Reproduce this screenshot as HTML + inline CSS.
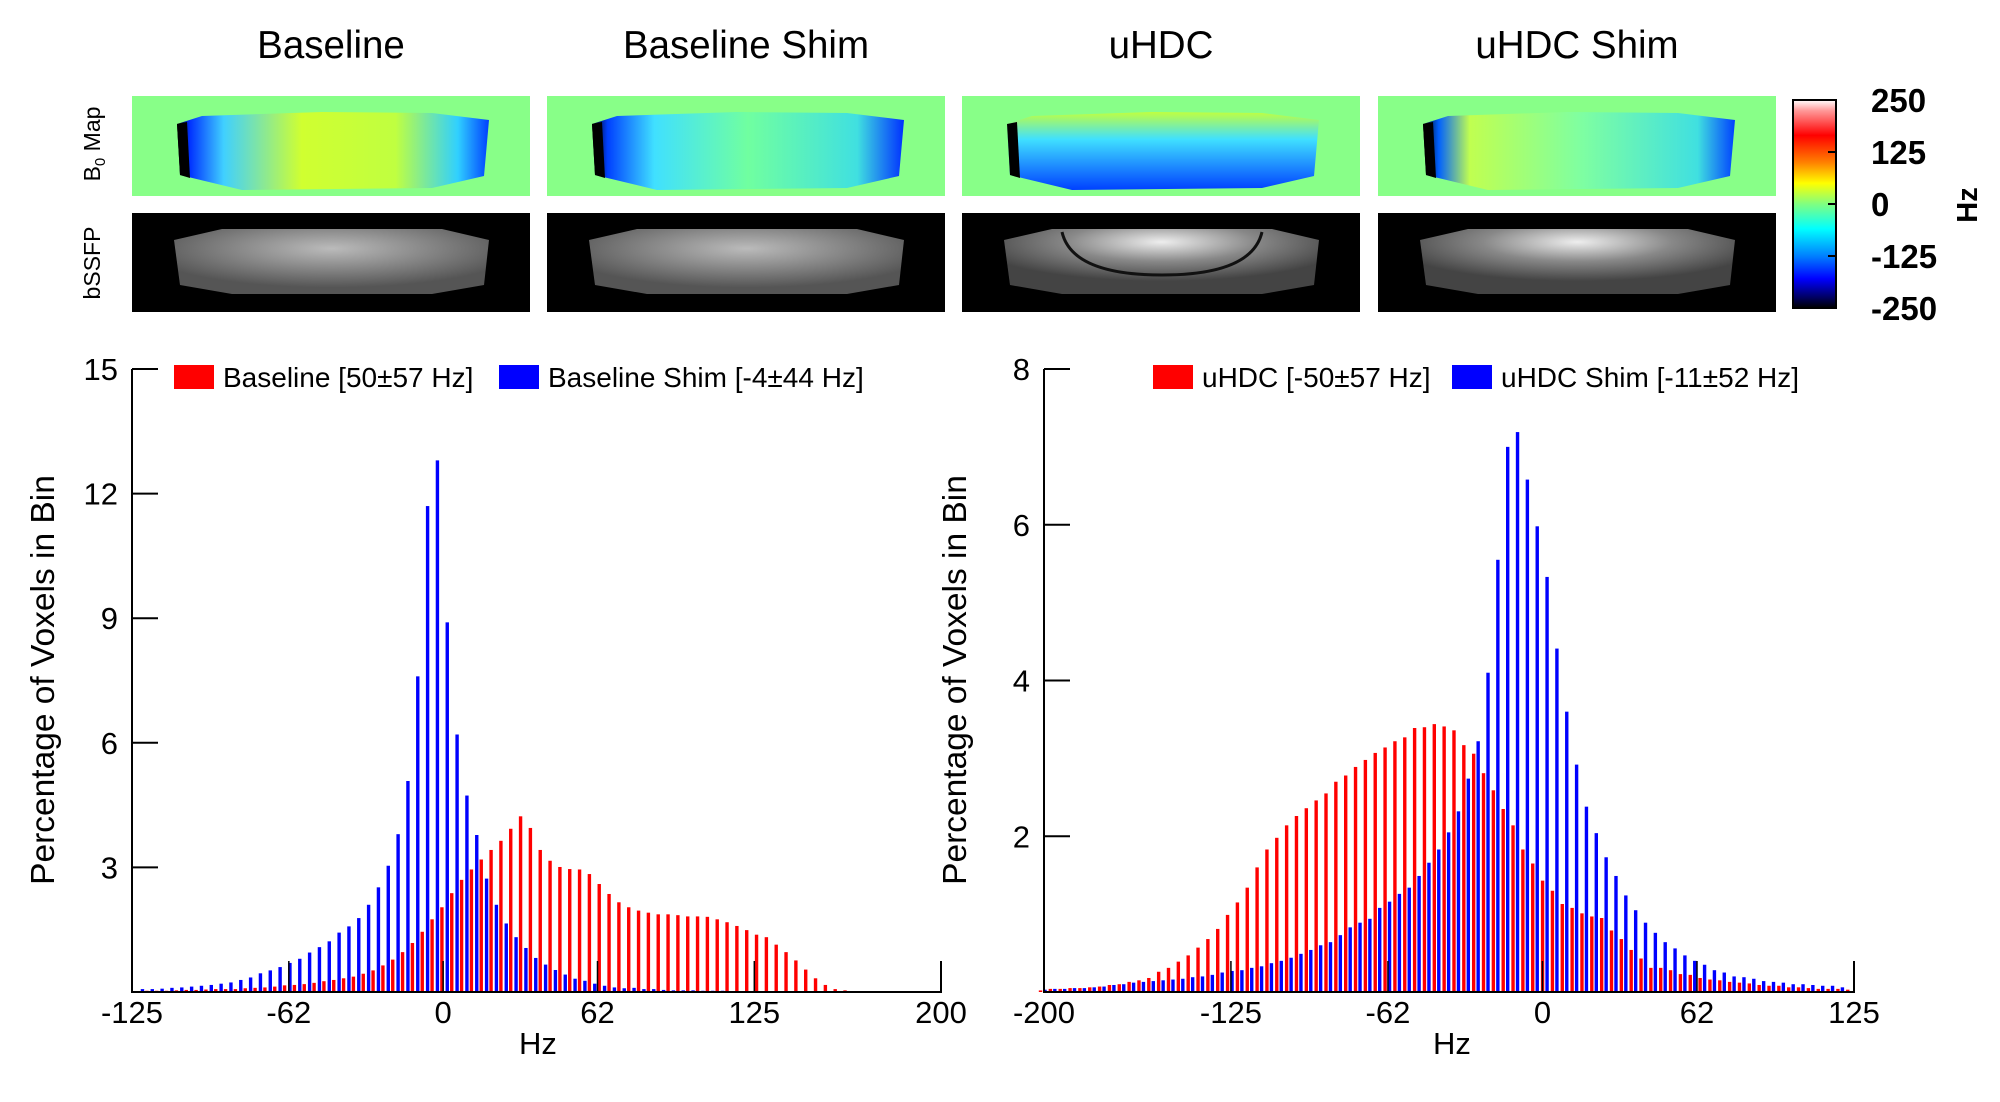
<!DOCTYPE html>
<html><head><meta charset="utf-8"><style>
html,body{margin:0;padding:0;background:#fff;}
svg{display:block;font-family:"Liberation Sans",Arial,sans-serif;}
</style></head><body>
<svg id="fig" width="2000" height="1102" viewBox="0 0 2000 1102" xmlns="http://www.w3.org/2000/svg">
<defs>
<linearGradient id="cbar" x1="0" y1="0" x2="0" y2="1">
<stop offset="0" stop-color="#ffffff"/><stop offset="0.05" stop-color="#ff9a9a"/><stop offset="0.17" stop-color="#ff0000"/>
<stop offset="0.3" stop-color="#ff8000"/><stop offset="0.4" stop-color="#ffff00"/><stop offset="0.5" stop-color="#80ff80"/>
<stop offset="0.62" stop-color="#00ffff"/><stop offset="0.75" stop-color="#0080ff"/><stop offset="0.86" stop-color="#0000ff"/>
<stop offset="0.95" stop-color="#000060"/><stop offset="1" stop-color="#000000"/></linearGradient>
<linearGradient id="b0a" x1="0" y1="0" x2="1" y2="0"><stop offset="0" stop-color="#000"/><stop offset="0.04" stop-color="#0030ff"/><stop offset="0.15" stop-color="#40d0ff"/><stop offset="0.4" stop-color="#d0ff30"/><stop offset="0.7" stop-color="#c0ff40"/><stop offset="0.9" stop-color="#30d0ff"/><stop offset="1" stop-color="#0040ff"/></linearGradient>
<linearGradient id="b0b" x1="0" y1="0" x2="1" y2="0"><stop offset="0" stop-color="#000"/><stop offset="0.05" stop-color="#0040ff"/><stop offset="0.2" stop-color="#40e0ff"/><stop offset="0.5" stop-color="#70ffa0"/><stop offset="0.85" stop-color="#40e0e0"/><stop offset="1" stop-color="#0030ff"/></linearGradient>
<linearGradient id="b0c" x1="0" y1="0" x2="0" y2="1"><stop offset="0" stop-color="#c0ff40"/><stop offset="0.35" stop-color="#40e0ff"/><stop offset="1" stop-color="#0040ff"/></linearGradient>
<linearGradient id="b0d" x1="0" y1="0" x2="1" y2="0"><stop offset="0" stop-color="#000"/><stop offset="0.05" stop-color="#0060ff"/><stop offset="0.15" stop-color="#c0ff50"/><stop offset="0.5" stop-color="#80ffa0"/><stop offset="0.88" stop-color="#40e0e0"/><stop offset="1" stop-color="#0040ff"/></linearGradient>
<radialGradient id="ssfp" cx="0.5" cy="0.3" r="0.6"><stop offset="0" stop-color="#bbb"/><stop offset="1" stop-color="#555"/></radialGradient>
<radialGradient id="ssfp2" cx="0.5" cy="0.2" r="0.6"><stop offset="0" stop-color="#eee"/><stop offset="0.5" stop-color="#888"/><stop offset="1" stop-color="#444"/></radialGradient>
</defs>
<g id="images"></g>
<g id="charts"></g>
</svg>
<script>
// ---------- data ----------
const leftBlue = [0.07,0.07,0.08,0.1,0.11,0.13,0.15,0.17,0.2,0.23,0.29,0.35,0.45,0.52,0.6,0.7,0.8,0.95,1.08,1.22,1.43,1.58,1.78,2.1,2.52,3.04,3.8,5.08,7.6,11.7,12.8,8.9,6.2,4.73,3.78,2.73,2.1,1.65,1.32,1.06,0.82,0.66,0.53,0.42,0.32,0.27,0.2,0.15,0.11,0.09,0.1,0.07,0.07,0.05,0.04,0.04,0.04,0.03,0.03,0.03,0.02,0.02,0.02,0.02,0.02,0.02,0,0,0,0,0,0,0,0,0,0,0,0,0,0,0,0];
const leftRed = [0.03,0.03,0.03,0.04,0.05,0.05,0.06,0.07,0.07,0.07,0.09,0.1,0.11,0.13,0.16,0.17,0.19,0.22,0.26,0.29,0.33,0.37,0.44,0.52,0.64,0.78,0.96,1.18,1.45,1.75,2.04,2.38,2.7,2.95,3.19,3.42,3.64,3.93,4.23,3.95,3.42,3.16,3.01,2.96,2.95,2.84,2.6,2.36,2.16,2.04,1.96,1.91,1.87,1.87,1.85,1.82,1.82,1.81,1.75,1.68,1.59,1.49,1.38,1.32,1.14,0.96,0.76,0.54,0.33,0.17,0.07,0.04,0.02,0.02,0.02,0.02,0.02,0.02,0.02,0.02,0.02,0.02,0.02];
const rightBlue = [0.03,0.04,0.04,0.05,0.05,0.06,0.07,0.09,0.1,0.12,0.13,0.14,0.15,0.16,0.17,0.19,0.2,0.22,0.25,0.27,0.28,0.31,0.33,0.37,0.4,0.44,0.49,0.54,0.6,0.64,0.73,0.83,0.89,0.94,1.08,1.16,1.26,1.34,1.49,1.66,1.83,2.05,2.32,2.74,3.22,4.1,5.55,7.0,7.19,6.58,5.98,5.33,4.41,3.6,2.92,2.38,2.04,1.73,1.49,1.24,1.05,0.89,0.76,0.64,0.56,0.47,0.4,0.35,0.28,0.25,0.2,0.19,0.17,0.14,0.13,0.12,0.1,0.1,0.09,0.08,0.08,0.06];
const rightRed = [0.02,0.04,0.04,0.05,0.05,0.06,0.07,0.09,0.1,0.13,0.15,0.18,0.26,0.31,0.39,0.47,0.57,0.68,0.81,0.99,1.15,1.34,1.6,1.83,1.98,2.14,2.26,2.36,2.46,2.55,2.7,2.78,2.89,2.98,3.07,3.14,3.22,3.27,3.39,3.4,3.44,3.41,3.36,3.17,3.06,2.81,2.59,2.35,2.14,1.83,1.65,1.43,1.3,1.13,1.08,1.01,0.97,0.95,0.79,0.68,0.54,0.43,0.31,0.31,0.28,0.23,0.22,0.18,0.16,0.15,0.13,0.12,0.11,0.09,0.08,0.08,0.06,0.06,0.05,0.04,0.04,0.04,0.03];
const leftXTicks = [-125,-62,0,62,125,200];
const rightXTicks = [-200,-125,-62,0,62,125];
const leftYTicks = [3,6,9,12,15];
const rightYTicks = [2,4,6,8];
const leftLegend = ["Baseline [50\u00b157 Hz]","Baseline Shim [-4\u00b144 Hz]"];
const rightLegend = ["uHDC [-50\u00b157 Hz]","uHDC Shim [-11\u00b152 Hz]"];
const colTitles = ["Baseline","Baseline Shim","uHDC","uHDC Shim"];
const cbarTicks = [250,125,0,-125,-250];

const NS="http://www.w3.org/2000/svg";
function mk(tag,attrs,parent,text){const e=document.createElementNS(NS,tag);for(const k in attrs)e.setAttribute(k,attrs[k]);if(text!==undefined)e.textContent=text;parent.appendChild(e);return e;}
const imgs=document.getElementById('images');
const charts=document.getElementById('charts');

// ---------- images ----------
const panelX=[132,547,962,1378], PW=398;
const b0fills=["url(#b0a)","url(#b0b)","url(#b0c)","url(#b0d)"];
colTitles.forEach((t,i)=>{
  const tt=mk('text',{x:panelX[i]+PW/2,y:58,'text-anchor':'middle','font-size':38.5},imgs,t);
  
  
  const x=panelX[i];
  const g=mk('g',{},imgs);
  
  
  mk('rect',{x:x,y:96,width:PW,height:100,fill:'#88ff88'},g);
  mk('path',{d:`M${x+45} 124 L${x+70} 116 L${x+190} 112 L${x+300} 113 L${x+357} 120 L${x+352} 176 L${x+300} 188 L${x+110} 190 L${x+48} 175 Z`,fill:b0fills[i]},g);
  mk('path',{d:`M${x+45} 124 L${x+55} 122 L${x+58} 178 L${x+48} 175 Z`,fill:'#000'},g);
  const g2=mk('g',{},imgs);
  
  
  mk('rect',{x:x,y:213,width:PW,height:99,fill:'#000'},g2);
  mk('path',{d:`M${x+42} 240 L${x+90} 229 L${x+310} 229 L${x+357} 240 L${x+352} 285 L${x+300} 294 L${x+100} 294 L${x+48} 285 Z`,fill:i>=2?'url(#ssfp2)':'url(#ssfp)'},g2);
  if(i===2) mk('path',{d:`M${x+100} 232 Q${x+110} 275 ${x+200} 275 Q${x+290} 275 ${x+300} 232`,fill:'none',stroke:'#111','stroke-width':3},g2);
});
[["B","Map",144],["bSSFP","",263]].forEach(([a,b,cy])=>{
  const t=mk('text',{transform:`translate(100 ${cy}) rotate(-90)`,'text-anchor':'middle','font-size':23},imgs);
  
  
  if(b){mk('tspan',{},t,'B');mk('tspan',{'font-size':15,dy:5},t,'0');mk('tspan',{dy:-5},t,' Map');}else t.textContent=a;
});
const cb=mk('rect',{x:1793,y:100,width:43,height:208,fill:'url(#cbar)',stroke:'#000','stroke-width':2},imgs);


cbarTicks.forEach(v=>{
  const y=100+(250-v)/500*208;
  if(Math.abs(v)!==250) mk('line',{x1:1828,x2:1836,y1:y,y2:y,stroke:'#000','stroke-width':2},imgs);
  const t=mk('text',{x:1871,y:y+12,'font-size':33,'font-weight':'bold'},imgs,String(v));
  
  
});
const hz=mk('text',{transform:'translate(1977 205) rotate(-90)','text-anchor':'middle','font-size':29,'font-weight':'bold'},imgs,'Hz');



// ---------- charts ----------
const BASE=992, TOP=369;
function chart(opt){
  const g=mk('g',{},charts);
  
  
  const X=h=>opt.x0+(h-opt.xmin)/(opt.xmax-opt.xmin)*(opt.x1-opt.x0);
  const Y=v=>BASE-v/opt.ymax*(BASE-TOP);
  const bw=3.4;
  opt.blue.forEach((v,k)=>{
    const c=opt.b0+opt.step*k;
    if(v<=0||c>opt.xmax-1) return;
    const r=mk('rect',{x:X(c)-bw/2,y:Y(v),width:bw,height:BASE-Y(v),fill:'#0000ff'},g);
    
    
  });
  opt.red.forEach((v,k)=>{
    const c=opt.b0+opt.step*k-opt.redOff;
    if(v<=0||c>opt.xmax-1) return;
    const r=mk('rect',{x:X(c)-bw/2,y:Y(v),width:bw,height:BASE-Y(v),fill:'#ff0000'},g);
    
    
  });
  mk('line',{x1:opt.x0,x2:opt.x0,y1:TOP,y2:BASE+1,stroke:'#000','stroke-width':2},g);
  mk('line',{x1:opt.x0,x2:opt.x1,y1:BASE,y2:BASE,stroke:'#000','stroke-width':2},g);
  mk('line',{x1:opt.x1,x2:opt.x1,y1:BASE-31,y2:BASE+1,stroke:'#000','stroke-width':2},g);
  opt.yt.forEach(v=>{
    mk('line',{x1:opt.x0,x2:opt.x0+26,y1:Y(v),y2:Y(v),stroke:'#000','stroke-width':2},g);
    const t=mk('text',{x:opt.x0-14,y:Y(v)+11,'text-anchor':'end','font-size':31},g,String(v));
    
    
  });
  opt.xt.forEach(v=>{
    mk('line',{x1:X(v),x2:X(v),y1:BASE-31,y2:BASE,stroke:'#000','stroke-width':1.5},g);
    const t=mk('text',{x:X(v),y:BASE+31,'text-anchor':'middle','font-size':31},g,String(v));
    
    
  });
  const xt=mk('text',{x:opt.xtitle,y:BASE+62,'text-anchor':'middle','font-size':31},g,'Hz');
  
  
  const yt=mk('text',{transform:`translate(${opt.x0-78} 680) rotate(-90)`,'text-anchor':'middle','font-size':33.5},g,'Percentage of Voxels in Bin');
  
  
  opt.leg.forEach((s,i)=>{
    const lg=mk('g',{},g);
    
    
    mk('rect',{x:opt.legX[i],y:365,width:40,height:24,fill:i?'#0000ff':'#ff0000'},lg);
    mk('text',{x:opt.legX[i]+49,y:387,'font-size':28},lg,s);
  });
}
chart({name:'left-histogram',x0:132,x1:941,xmin:-125,xmax:200,ymax:15,b0:-120.8,step:3.95,redOff:-1.8,
  blue:leftBlue,red:leftRed,xt:leftXTicks,yt:leftYTicks,leg:leftLegend,legX:[174,499],xtitle:538});
chart({name:'right-histogram',x0:1044,x1:1854,xmin:-200,xmax:125,ymax:8,b0:-199.6,step:3.95,redOff:1.8,
  blue:rightBlue,red:rightRed,xt:rightXTicks,yt:rightYTicks,leg:rightLegend,legX:[1153,1452],xtitle:1452});
</script>
</body></html>
